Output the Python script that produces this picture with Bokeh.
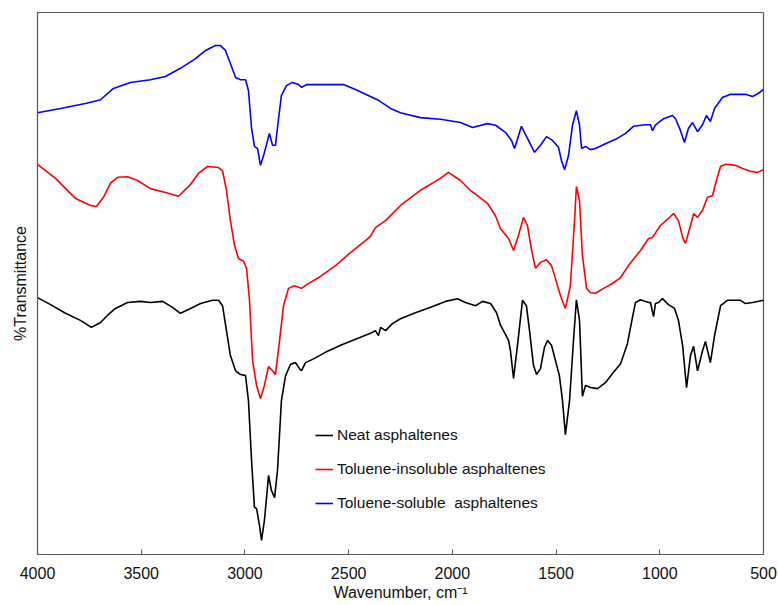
from bokeh.plotting import figure
from bokeh.models import Range1d, FixedTicker, Legend, LegendItem
from bokeh.embed import file_html
from bokeh.resources import INLINE

# ---- data (wavenumber, cm-1 ; %T in arbitrary offset units) ----
neat_wn = [4000, 3937, 3865, 3793, 3740, 3696, 3663, 3624, 3566, 3503, 3455, 3397, 3349, 3311,
           3262, 3214, 3156, 3127, 3108, 3089, 3070, 3045, 3021, 2997, 2983, 2968, 2954, 2944,
           2930, 2920, 2906, 2886, 2872, 2857, 2843, 2824, 2804, 2780, 2756, 2737, 2727, 2708,
           2674, 2612, 2539, 2467, 2395, 2371, 2356, 2346, 2322, 2289, 2250, 2178, 2105, 2033,
           1975, 1937, 1888, 1855, 1816, 1787, 1768, 1729, 1720, 1705, 1686, 1662, 1643, 1628,
           1609, 1594, 1575, 1556, 1541, 1522, 1503, 1484, 1469, 1455, 1435, 1416, 1402, 1387,
           1373, 1358, 1334, 1300, 1262, 1228, 1189, 1156, 1132, 1117, 1093, 1054, 1045, 1030,
           1021, 1006, 987, 958, 929, 910, 890, 871, 852, 837, 818, 794, 780, 756, 736, 707,
           674, 611, 587, 553, 500]
neat_t = [47.4, 46.1, 44.5, 43.2, 41.9, 42.8, 44.1, 45.4, 46.5, 46.7, 46.5, 46.7, 45.6, 44.5,
          45.4, 46.3, 46.9, 46.9, 45.9, 41.3, 36.7, 33.9, 33.2, 33.0, 28.4, 17.3, 8.7, 8.5,
          5.4, 2.6, 6.3, 14.6, 11.8, 10.5, 15.5, 28.4, 33.0, 35.1, 35.4, 34.3, 33.9, 35.4,
          36.0, 37.3, 38.6, 39.7, 40.8, 41.3, 40.4, 41.9, 41.3, 42.6, 43.5, 44.6, 45.6, 46.7,
          47.2, 46.5, 45.9, 46.7, 46.3, 44.6, 42.3, 39.5, 37.6, 32.5, 38.6, 46.9, 45.9, 41.3,
          34.9, 33.2, 34.3, 38.2, 39.5, 38.6, 35.8, 33.0, 28.4, 22.1, 28.4, 39.5, 47.0, 43.2,
          29.2, 31.2, 30.8, 30.6, 31.7, 33.4, 35.2, 38.9, 43.7, 46.5, 47.0, 46.5, 46.5, 43.9,
          46.3, 46.5, 47.2, 46.1, 45.4, 43.2, 38.6, 30.8, 36.7, 38.4, 33.9, 37.6, 39.3, 35.4,
          40.4, 45.9, 46.9, 46.9, 46.3, 46.5, 46.9]

insol_wn = [4000, 3913, 3817, 3744, 3716, 3682, 3648, 3614, 3566, 3518, 3455, 3383, 3320, 3262,
            3224, 3180, 3127, 3108, 3089, 3070, 3050, 3031, 3007, 2992, 2978, 2963, 2944, 2925,
            2906, 2886, 2867, 2853, 2833, 2814, 2790, 2761, 2727, 2703, 2636, 2563, 2491, 2419,
            2395, 2371, 2322, 2250, 2154, 2057, 2019, 1961, 1913, 1879, 1831, 1792, 1768, 1729,
            1705, 1681, 1657, 1638, 1618, 1599, 1575, 1546, 1522, 1503, 1479, 1455, 1431, 1411,
            1402, 1387, 1373, 1353, 1334, 1310, 1271, 1228, 1189, 1151, 1093, 1054, 1035, 997,
            958, 934, 910, 890, 876, 852, 837, 818, 794, 770, 746, 727, 707, 683, 635, 601,
            563, 529, 500]
insol_t = [72.0, 69.4, 65.7, 64.4, 64.2, 65.9, 68.5, 69.6, 69.7, 69.0, 67.5, 66.8, 66.1, 68.3,
           70.3, 71.6, 71.4, 70.8, 67.2, 61.6, 57.0, 54.6, 54.1, 52.8, 46.9, 35.8, 31.2, 28.8,
           31.2, 34.7, 33.9, 33.2, 39.5, 45.9, 49.1, 49.6, 49.1, 49.8, 51.3, 53.3, 55.7, 57.9,
           58.7, 60.3, 61.6, 64.4, 67.2, 69.4, 70.5, 69.0, 67.2, 66.2, 64.8, 62.5, 60.1, 58.3,
           56.1, 58.9, 62.2, 60.7, 56.1, 52.8, 53.9, 54.4, 53.3, 50.9, 47.8, 45.4, 49.6, 61.6,
           67.9, 65.3, 55.2, 49.1, 48.3, 48.2, 49.1, 50.0, 51.1, 53.3, 56.1, 58.3, 58.5, 60.7,
           62.0, 62.9, 61.6, 58.5, 57.4, 60.7, 62.9, 62.2, 63.5, 65.9, 66.2, 69.0, 71.6, 72.0,
           71.8, 71.2, 70.7, 70.5, 71.0]

sol_wn = [4000, 3889, 3769, 3696, 3634, 3552, 3455, 3383, 3311, 3238, 3190, 3142, 3118, 3094,
          3070, 3045, 3021, 2997, 2983, 2968, 2954, 2939, 2925, 2910, 2882, 2867, 2853, 2838,
          2824, 2800, 2771, 2742, 2727, 2703, 2636, 2525, 2467, 2395, 2356, 2298, 2250, 2154,
          2057, 1961, 1903, 1831, 1792, 1744, 1715, 1700, 1667, 1633, 1604, 1575, 1546, 1517,
          1488, 1474, 1459, 1440, 1421, 1402, 1387, 1377, 1358, 1334, 1310, 1262, 1213, 1165,
          1127, 1069, 1045, 1035, 1021, 982, 939, 924, 900, 881, 862, 842, 818, 794, 775, 756,
          736, 698, 659, 587, 553, 524, 500]
sol_t = [81.5, 82.3, 83.2, 83.9, 86.0, 87.1, 87.6, 88.2, 89.7, 91.5, 93.0, 93.9, 93.9, 93.0,
         90.6, 88.0, 87.6, 87.6, 85.6, 78.6, 75.3, 74.9, 71.8, 73.6, 77.7, 75.5, 75.5, 80.4,
         84.7, 86.5, 87.1, 86.7, 86.2, 86.7, 86.7, 86.7, 85.8, 84.5, 83.8, 82.3, 81.5, 80.6,
         80.3, 79.7, 78.8, 79.5, 79.2, 77.9, 76.4, 74.9, 79.0, 76.4, 74.2, 75.5, 77.1, 76.4,
         75.1, 72.7, 71.0, 73.6, 79.2, 81.9, 79.2, 74.9, 75.3, 74.7, 74.9, 75.8, 76.6, 77.7,
         79.0, 79.3, 79.3, 78.2, 79.2, 80.4, 81.0, 80.4, 78.2, 76.0, 78.6, 79.7, 78.0, 79.3,
         81.0, 79.9, 82.3, 84.3, 84.9, 84.9, 84.5, 85.1, 85.8]

x_ticks = [4000, 3500, 3000, 2500, 2000, 1500, 1000, 500]
labels = ["Neat asphaltenes", "Toluene-insoluble asphaltenes", "Toluene-soluble  asphaltenes"]
colors = ["#000000", "#FF0000", "#0000FF"]

FONT = "Liberation Sans"

p = figure(width=778, height=605, output_backend="svg", toolbar_location=None,
           x_range=Range1d(4000, 500), y_range=Range1d(0, 100),
           min_border_left=37, min_border_right=15, min_border_top=12, min_border_bottom=51)
p.background_fill_color = "white"
p.border_fill_color = "white"
p.grid.visible = False
p.outline_line_color = "#555555"
p.outline_line_width = 1.2

r_neat = p.line(neat_wn, neat_t, line_color=colors[0], line_width=1.6)
r_ins = p.line(insol_wn, insol_t, line_color=colors[1], line_width=1.6)
r_sol = p.line(sol_wn, sol_t, line_color=colors[2], line_width=1.6)

xa = p.xaxis[0]
xa.ticker = FixedTicker(ticks=x_ticks)
xa.minor_tick_line_color = None
xa.major_tick_in = 5
xa.major_tick_out = 0
xa.major_tick_line_color = "#555555"
xa.axis_line_color = "#555555"
xa.major_label_text_font = FONT
xa.major_label_text_font_size = "16px"
xa.major_label_text_color = "#111111"
xa.major_label_standoff = 12
xa.axis_label = "Wavenumber, cm⁻¹"
xa.axis_label_text_font = FONT
xa.axis_label_text_font_size = "16px"
xa.axis_label_text_font_style = "normal"
xa.axis_label_text_color = "#111111"
xa.axis_label_standoff = 2

ya = p.yaxis[0]
ya.ticker = FixedTicker(ticks=[])
ya.minor_tick_line_color = None
ya.major_tick_line_color = None
ya.axis_line_color = "#555555"
ya.major_label_text_font_size = "0px"
ya.axis_label = "%Transmittance"
ya.axis_label_text_font = FONT
ya.axis_label_text_font_size = "16px"
ya.axis_label_text_font_style = "normal"
ya.axis_label_text_color = "#111111"
ya.axis_label_standoff = 9

legend = Legend(items=[LegendItem(label=labels[0], renderers=[r_neat]),
                       LegendItem(label=labels[1], renderers=[r_ins]),
                       LegendItem(label=labels[2], renderers=[r_sol])],
                location=(278, 41))
legend.border_line_alpha = 0
legend.background_fill_alpha = 0
legend.padding = 0
legend.margin = 0
legend.spacing = 14
legend.glyph_width = 18
legend.glyph_height = 20
legend.label_height = 20
legend.label_standoff = 4
legend.label_text_font = FONT
legend.label_text_font_size = "15.5px"
legend.label_text_color = "#111111"
p.add_layout(legend, "center")

open("out.html", "w").write(file_html(p, INLINE))
